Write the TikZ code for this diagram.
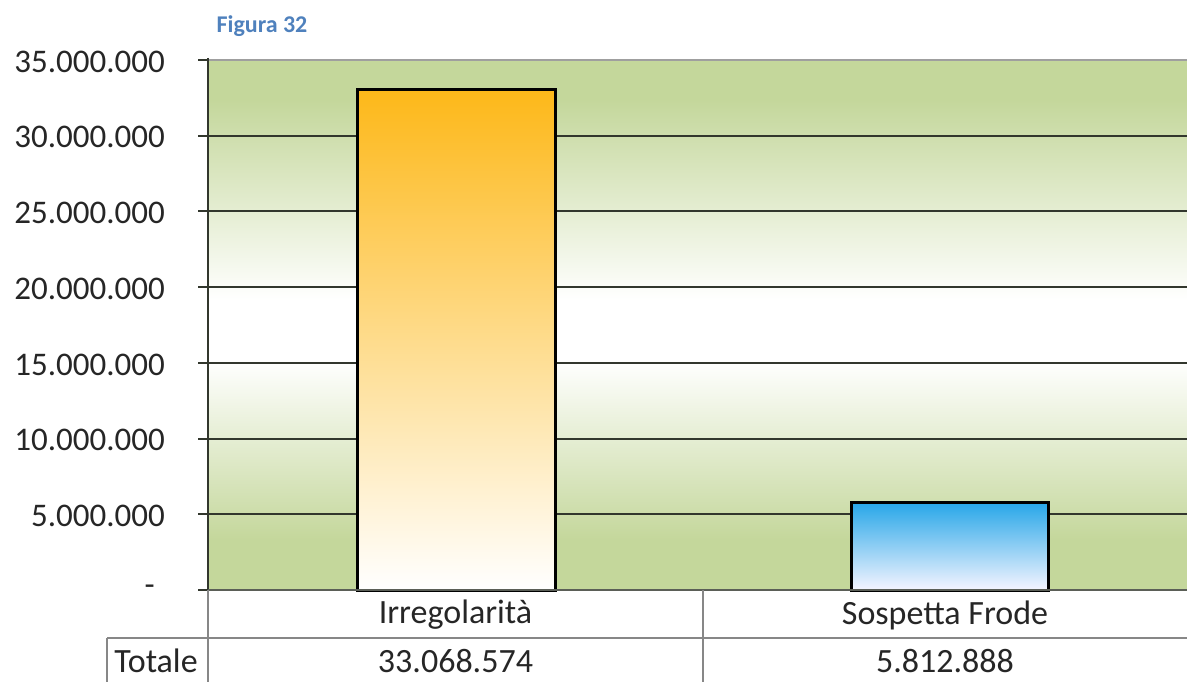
\documentclass[tikz,border=0pt]{standalone}
\usepackage{fontspec}
\setmainfont{Carlito}
\definecolor{bggreen}{RGB}{196,215,155}
\definecolor{gridc}{RGB}{50,55,45}
\definecolor{barorange}{RGB}{253,184,25}
\definecolor{barblue}{RGB}{38,166,232}
\definecolor{figblue}{RGB}{79,129,189}
\definecolor{txt}{RGB}{38,38,38}
\definecolor{tabline}{RGB}{135,135,135}
\begin{document}
\begin{tikzpicture}[x=1pt,y=-1pt,
  lab/.style={font=\fontsize{33}{36}\selectfont, text=txt, inner sep=0pt},
  tlab/.style={font=\fontsize{34}{37}\selectfont, text=txt, inner sep=0pt},
  ylab/.style={lab, anchor=east},
  gridline/.style={draw=gridc, line width=2pt},
  tabrule/.style={draw=tabline, line width=1.4pt},
  barframe/.style={draw=black, line width=3pt}]
\useasboundingbox (0,0) rectangle (1187,682);
\fill[white] (0,0) rectangle (1187,682);
% plot background
\fill[bggreen] (208,60) rectangle (1187,100);
\shade[top color=bggreen, bottom color=white] (208,100) rectangle (1187,300);
\fill[white] (208,300) rectangle (1187,360);
\shade[top color=white, bottom color=bggreen] (208,360) rectangle (1187,540);
\fill[bggreen] (208,540) rectangle (1187,590);
% gridlines and ticks
\foreach \v in {5,10,...,30}{
  \draw[gridline] (208,590-\v*15.14) -- (1187,590-\v*15.14);
}
\foreach \v in {0,5,...,35}{
  \draw[gridline] (198,590-\v*15.14) -- (208,590-\v*15.14);
}
\draw[draw=gray!75, line width=2pt] (208,60) -- (1187,60);
% bars
\shade[top color=barorange, bottom color=white] (357,89.3) rectangle (555,590);
\draw[barframe] (357,89.3) rectangle (555,590);
\shade[top color=barblue, bottom color=white!96!blue] (851,502) rectangle (1048,590);
\draw[barframe] (851,502) rectangle (1048,590);
% axes
\draw[gridline] (208,58) -- (208,590);
\draw[draw=gridc!80, line width=1.6pt] (208,590) -- (1187,590);
% y labels
\node[ylab] (y35) at (165,62) {35.000.000};
\node[ylab] (y30) at (165,137) {30.000.000};
\node[ylab] (y25) at (165,213) {25.000.000};
\node[ylab] (y20) at (165,289) {20.000.000};
\node[ylab] (y15) at (165,365) {15.000.000};
\node[ylab] (y10) at (165,440) {10.000.000};
\node[ylab] (y05) at (165,516) {5.000.000};
\node[ylab] (y00) at (155,590) {-};
% title
\node[font=\bfseries\fontsize{24}{26}\selectfont, text=figblue, inner sep=0pt] (fig) at (262,26) {Figura 32};
% table
\draw[tabrule] (208,590) -- (208,682);
\draw[tabrule] (703,590) -- (703,682);
\draw[tabrule] (107,638) -- (1187,638);
\draw[tabrule] (107,638) -- (107,682);
\node[tlab] (c1) at (455.5,615) {Irregolarità};
\node[tlab] (c2) at (945,615) {Sospetta Frode};
\node[tlab] (tot) at (156,661) {Totale};
\node[tlab] (v1) at (455.5,661) {33.068.574};
\node[tlab] (v2) at (945,661) {5.812.888};
\end{tikzpicture}
\end{document}
